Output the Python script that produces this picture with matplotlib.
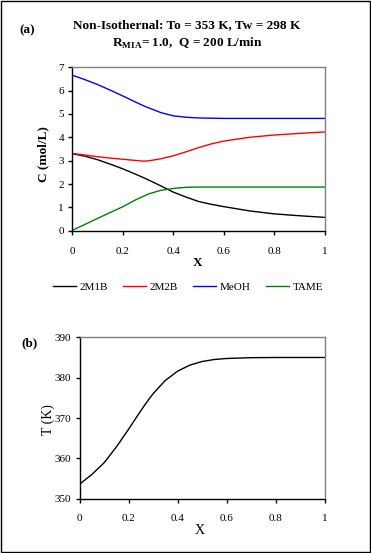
import matplotlib; matplotlib.use("Agg")
import matplotlib.pyplot as plt
from matplotlib.lines import Line2D
from matplotlib.patches import Rectangle

plt.rcParams["font.family"] = ["Liberation Serif", "DejaVu Serif"]
plt.rcParams["mathtext.fontset"] = "custom"
plt.rcParams["mathtext.rm"] = "Liberation Serif"
plt.rcParams["mathtext.bf"] = "Liberation Serif:bold"

# conversion X and readings
X = [0.0, 0.05, 0.1, 0.15, 0.2, 0.25, 0.28, 0.3, 0.35, 0.4, 0.45, 0.5, 0.55, 0.6, 0.7, 0.8, 0.9, 1.0]
C_2M1B = [3.30, 3.19, 3.04, 2.85, 2.65, 2.42, 2.28, 2.18, 1.92, 1.65, 1.44, 1.25, 1.13, 1.03, 0.85, 0.72, 0.64, 0.57]
C_2M2B = [3.31, 3.24, 3.17, 3.11, 3.06, 3.01, 2.98, 2.99, 3.08, 3.21, 3.38, 3.56, 3.72, 3.84, 4.00, 4.10, 4.17, 4.23]
C_MeOH = [6.66, 6.47, 6.26, 6.02, 5.77, 5.51, 5.36, 5.27, 5.06, 4.92, 4.86, 4.83, 4.82, 4.81, 4.81, 4.81, 4.81, 4.81]
C_TAME = [0.02, 0.27, 0.53, 0.78, 1.03, 1.32, 1.47, 1.57, 1.73, 1.81, 1.86, 1.87, 1.87, 1.87, 1.87, 1.87, 1.87, 1.87]
T_K = [353.6, 356.0, 358.9, 362.8, 367.2, 371.8, 374.4, 376.0, 379.3, 381.6, 383.1, 384.0, 384.5, 384.75, 384.95, 385.0, 385.0, 385.0]

SPECIES = ["2M1B", "2M2B", "MeOH", "TAME"]
COLORS = ["black", "red", "blue", "green"]

W, H = 371, 553
fig = plt.figure(figsize=(W / 100, H / 100), dpi=100)
fx = lambda px: px / W
fy = lambda py: 1 - py / H

fig.patches.append(Rectangle((fx(1), fy(551.5)), fx(368.5), 550.5 / H, transform=fig.transFigure,
                             fill=False, edgecolor="black", linewidth=1.0))

def style(ax, xpad):
    ax.spines["top"].set_color("#808080"); ax.spines["right"].set_color("#808080")
    for s in ax.spines.values(): s.set_linewidth(1.0)
    ax.tick_params(direction="out", length=3, width=1, labelsize=8, pad=3)
    ax.tick_params(axis="x", pad=xpad)

# (a) concentrations
ax1 = fig.add_axes([fx(72.4), fy(230.7), (325 - 72.4) / W, (230.7 - 67.3) / H])
for vals, c in zip([C_2M1B, C_2M2B, C_MeOH, C_TAME], COLORS):
    ax1.plot(X, vals, color=c, lw=1.0)
ax1.set_xlim(0, 1); ax1.set_ylim(0, 7)
ax1.set_xticks([0, 0.2, 0.4, 0.6, 0.8, 1]); ax1.set_xticklabels(["0", "0.2", "0.4", "0.6", "0.8", "1"])
ax1.set_yticks(range(8))
style(ax1, 9)

fig.text(fx(27), fy(30), "(a)", fontsize=9.5, fontweight="bold", ha="center", va="center")
fig.text(fx(187), fy(25), "Non-Isothernal: To = 353 K, Tw = 298 K", fontsize=9.5, fontweight="bold", ha="center", va="center")
fig.text(fx(187.5), fy(43), r"R$_{\mathbf{MIA}}$= 1.0,  Q = 200 L/min", fontsize=9.5, fontweight="bold", ha="center", va="center")
fig.text(fx(43), fy(154), "C (mol/L)", fontsize=9.5, fontweight="bold", rotation=90, ha="center", va="center")
fig.text(fx(198), fy(263), "X", fontsize=9.5, fontweight="bold", ha="center", va="center")

handles = [Line2D([], [], color=c, lw=1.0) for c in COLORS]
fig.legend(handles, SPECIES, loc="center", bbox_to_anchor=(fx(188), fy(287)), ncol=4, frameon=False,
           fontsize=8, handlelength=2.07, handletextpad=0.3, columnspacing=1.4, borderpad=0, borderaxespad=0)

# (b) temperature
ax2 = fig.add_axes([fx(79.5), fy(498.8), (324.5 - 79.5) / W, (498.8 - 337.3) / H])
ax2.plot(X, T_K, color="black", lw=1.0)
ax2.set_xlim(0, 1); ax2.set_ylim(350, 390)
ax2.set_xticks([0, 0.2, 0.4, 0.6, 0.8, 1]); ax2.set_xticklabels(["0", "0.2", "0.4", "0.6", "0.8", "1"])
ax2.set_yticks([350, 360, 370, 380, 390])
style(ax2, 8)

fig.text(fx(29), fy(343), "(b)", fontsize=9.5, fontweight="bold", ha="center", va="center")
fig.text(fx(48), fy(420), "T (K)", fontsize=10, rotation=90, ha="center", va="center")
fig.text(fx(200), fy(530), "X", fontsize=10, ha="center", va="center")

fig.savefig("out.png", dpi=100)
